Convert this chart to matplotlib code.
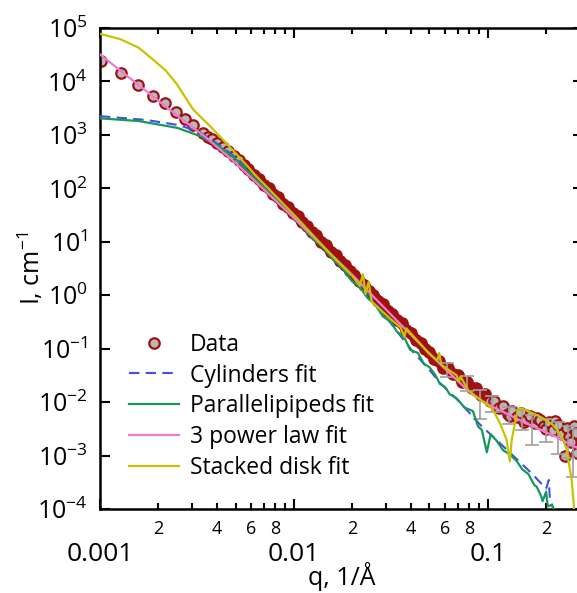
import numpy as np
import matplotlib
matplotlib.use("Agg")
import matplotlib.pyplot as plt
from matplotlib.ticker import FixedLocator, FixedFormatter, NullLocator, LogLocator, LogFormatterSciNotation

# measured SAXS curve (q in 1/A, I in 1/cm)
q_data = [0.00101, 0.00128, 0.00157, 0.00187, 0.00216, 0.00247, 0.00274, 0.00302,
          0.0034, 0.0036, 0.0038, 0.0040, 0.0043, 0.0046, 0.0049, 0.0052, 0.0055, 0.0058,
          0.0062, 0.0066, 0.0070, 0.0074, 0.0078, 0.0083, 0.0088, 0.0093, 0.0099, 0.0105,
          0.011, 0.0117, 0.0124, 0.013, 0.0138, 0.0146, 0.0155, 0.0164, 0.0173, 0.0183,
          0.0194, 0.0205, 0.0217, 0.023, 0.0243, 0.0257, 0.0272, 0.0288, 0.0305, 0.0322,
          0.034, 0.036, 0.038, 0.040, 0.0425, 0.045, 0.0475, 0.050, 0.053, 0.056,
          0.059, 0.0625, 0.066, 0.070, 0.074, 0.078, 0.0825, 0.087, 0.092, 0.097,
          0.1025, 0.108, 0.114, 0.12, 0.127, 0.131, 0.134, 0.141, 0.149, 0.153, 0.157,
          0.166, 0.175, 0.18, 0.185, 0.195, 0.2, 0.206, 0.217, 0.223, 0.229, 0.242,
          0.25, 0.255, 0.262, 0.27, 0.278, 0.285, 0.29]
I_data = [2.4e4, 1.45e4, 8.5e3, 5.4e3, 4.0e3, 2.7e3, 2.0e3, 1.5e3,
          1.1e3, 930, 830, 720, 600, 510, 400, 340, 270, 230,
          174, 148, 115, 100, 79, 68, 51, 45, 34, 30,
          23, 19.5, 15, 13.2, 10, 8.7, 6.5, 5.6, 4.3, 3.7,
          2.8, 2.4, 1.86, 1.58, 1.2, 1.02, 0.79, 0.68, 0.51, 0.45,
          0.34, 0.30, 0.22, 0.20, 0.148, 0.129, 0.098, 0.087, 0.065, 0.058,
          0.044, 0.043, 0.033, 0.032, 0.024, 0.024, 0.018, 0.018, 0.0138, 0.0141,
          0.0105, 0.0107, 0.0079, 0.0083, 0.0060, 0.0056, 0.0069, 0.0052, 0.0063, 0.0043, 0.0047,
          0.0054, 0.0040, 0.0050, 0.0047, 0.0035, 0.0032, 0.0042, 0.0030, 0.0045, 0.0038, 0.0025,
          0.0010, 0.0033, 0.0022, 0.0018, 0.0035, 0.0026, 0.0011]

# gray error bars at high q
eb_q = [0.062, 0.078, 0.091, 0.105, 0.129, 0.15, 0.17, 0.2, 0.23, 0.26, 0.275]
eb_I = [0.043, 0.024, 0.014, 0.0105, 0.0065, 0.0055, 0.0045, 0.0038, 0.0033, 0.0028, 0.0022]
eb_lo = [0.030, 0.016, 0.0048, 0.0065, 0.0039, 0.0030, 0.0016, 0.0018, 0.00105, 0.0009, 0.0004]
eb_hi = [0.055, 0.031, 0.017, 0.013, 0.0082, 0.0070, 0.0058, 0.0048, 0.0043, 0.0036, 0.0032]

# cylinders fit
q_cyl = [0.001, 0.00174, 0.00258, 0.00327, 0.00417, 0.00527, 0.00668, 0.01, 0.0158,
         0.0251, 0.0352, 0.041, 0.0501, 0.0566, 0.0708, 0.0912, 0.120, 0.166, 0.2,
         0.2065, 0.209, 0.221, 0.24]
I_cyl = [2240, 1900, 1510, 1120, 630, 330, 148, 32, 5.4,
         0.89, 0.18, 0.089, 0.040, 0.023, 0.0105, 0.0038, 0.0015, 0.00049, 0.00024,
         0.00035, 0.00016, 0.000089, 0.00005]

# parallelepipeds fit
q_par = [0.001, 0.00158, 0.00251, 0.00327, 0.00398, 0.00501, 0.00631, 0.00794, 0.01,
         0.0126, 0.0141, 0.0158, 0.0178, 0.02, 0.0219, 0.024, 0.0263, 0.0288, 0.0316,
         0.0339, 0.0372, 0.0398, 0.0437, 0.0468, 0.0501, 0.0537, 0.0566, 0.0603, 0.0637,
         0.0692, 0.0759, 0.0838, 0.0891, 0.0933, 0.0989, 0.1035, 0.111, 0.120, 0.130,
         0.141, 0.151, 0.162, 0.174, 0.179, 0.188, 0.192, 0.2, 0.204, 0.214, 0.221, 0.24]
I_par = [2040, 1820, 1350, 955, 661, 355, 151, 66, 28,
         11.2, 7.9, 4.8, 3.2, 1.8, 1.41, 0.89, 0.66, 0.40, 0.32,
         0.21, 0.16, 0.095, 0.083, 0.052, 0.045, 0.032, 0.022, 0.019, 0.014,
         0.0117, 0.0079, 0.0068, 0.0035, 0.0030, 0.00115, 0.0025, 0.0019, 0.00126, 0.00105,
         0.00079, 0.00055, 0.00045, 0.00028, 0.00026, 0.00018, 0.00014, 0.00021, 0.000112,
         0.00012, 0.000089, 0.00005]

# 3 power law fit
q_pow = [0.001, 0.0025, 0.0035, 0.005, 0.01, 0.02, 0.035, 0.056, 0.07, 0.083, 0.1,
         0.15, 0.227, 0.3]
I_pow = [3.2e4, 2.3e3, 910, 300, 28, 2.4, 0.30, 0.054, 0.025, 0.014, 0.0091,
         0.0044, 0.0022, 0.0013]

# stacked disk fit
q_disk = [0.001, 0.00127, 0.00158, 0.00187, 0.00219, 0.00249, 0.00302, 0.00382, 0.00468,
          0.00575, 0.00631, 0.01, 0.0158, 0.02, 0.0219, 0.0227, 0.0234, 0.0243, 0.0252,
          0.0316, 0.0355, 0.0372, 0.038, 0.0501, 0.055, 0.0562, 0.0575, 0.0692, 0.0708,
          0.0724, 0.0794, 0.0912, 0.106, 0.115, 0.125, 0.130, 0.133, 0.143, 0.150, 0.185,
          0.216, 0.241, 0.255, 0.271, 0.2805]
I_disk = [7.8e4, 6.2e4, 4.3e4, 2.6e4, 1.58e4, 8.9e3, 3.0e3, 1290, 590,
          263, 178, 32, 5.4, 2.3, 1.5, 2.5, 1.05, 1.78, 0.76,
          0.355, 0.25, 0.166, 0.24, 0.079, 0.060, 0.083, 0.050, 0.0316, 0.024,
          0.030, 0.0166, 0.0112, 0.0074, 0.0042, 0.0020, 0.00078, 0.0020, 0.0074, 0.0076, 0.0054,
          0.0038, 0.0023, 0.0013, 0.00035, 0.00008]

x_major = [0.001, 0.01, 0.1]
x_major_labels = ["0.001", "0.01", "0.1"]
x_minor = [m * d for d in [0.001, 0.01, 0.1] for m in range(2, 10)]
x_minor_labels = [str(m) if m % 2 == 0 else "" for d in [0.001, 0.01, 0.1] for m in range(2, 10)]

plt.rcParams["font.family"] = ["Open Sans", "DejaVu Sans"]
plt.rcParams["mathtext.fontset"] = "custom"
plt.rcParams["mathtext.rm"] = "Open Sans"
plt.rcParams["mathtext.it"] = "Open Sans"
plt.rcParams["axes.unicode_minus"] = False

red = "#a01212"
fig = plt.figure(figsize=(5.77, 5.93), dpi=100)
ax = fig.add_axes([100 / 577, 84 / 593, 483 / 577, 481 / 593])

ax.plot(q_data, I_data, "o", ms=7.5, mfc="#b8b8b8", mec=red, mew=1.6,
        label="Data", zorder=2)
# dense part of the data: overlapping circles merge into a solid band
dense = [i for i, q in enumerate(q_data) if 0.0055 <= q <= 0.1]
ax.plot([q_data[i] for i in dense], [I_data[i] for i in dense], color=red, lw=7.5,
        solid_capstyle="round", solid_joinstyle="round", zorder=2.5)
ax.errorbar(eb_q, eb_I,
            yerr=[np.array(eb_I) - np.array(eb_lo), np.array(eb_hi) - np.array(eb_I)],
            fmt="none", ecolor="#a0a0a0", elinewidth=1.2, capsize=5, capthick=1.2, zorder=3)
ax.plot(q_cyl, I_cyl, color="#3f51e6", lw=1.5, dashes=(5, 3), label="Cylinders fit", zorder=4)
ax.plot(q_par, I_par, color="#17975a", lw=1.6, label="Parallelipipeds fit", zorder=5)
ax.plot(q_pow, I_pow, color="#f27ad2", lw=1.6, label="3 power law fit", zorder=6)
ax.plot(q_disk, I_disk, color="#c9c200", lw=1.6, label="Stacked disk fit", zorder=7)

ax.set_xscale("log")
ax.set_yscale("log")
ax.set_xlim(0.001, 0.31)
ax.set_ylim(1e-4, 1e5)

ax.xaxis.set_major_locator(FixedLocator(x_major))
ax.xaxis.set_major_formatter(FixedFormatter(x_major_labels))
ax.xaxis.set_minor_locator(FixedLocator(x_minor))
ax.xaxis.set_minor_formatter(FixedFormatter(x_minor_labels))
ax.yaxis.set_major_locator(LogLocator(base=10, numticks=20))
ax.yaxis.set_major_formatter(LogFormatterSciNotation())
ax.yaxis.set_minor_locator(NullLocator())

for s in ax.spines.values():
    s.set_linewidth(1.8)
ax.tick_params(which="both", direction="in", top=True, right=True, width=1.5)
ax.tick_params(which="major", length=7)
ax.tick_params(which="minor", length=4)
ax.tick_params(axis="y", labelsize=18, pad=9)
ax.tick_params(axis="x", which="major", labelsize=19, pad=24)
ax.tick_params(axis="x", which="minor", labelsize=13, pad=8)

ax.set_xlabel("q, 1/Å", fontsize=18, labelpad=-4)
ax.set_ylabel("I, cm$^{-1}$", fontsize=18)
ax.yaxis.set_label_coords(-0.112, 0.5)

ax.legend(loc="lower left", bbox_to_anchor=(0.06, 0.06), frameon=False, fontsize=16.5,
          handlelength=2.2, handletextpad=0.45, labelspacing=0.3, borderpad=0,
          borderaxespad=0)

fig.savefig("out.png", dpi=100)
